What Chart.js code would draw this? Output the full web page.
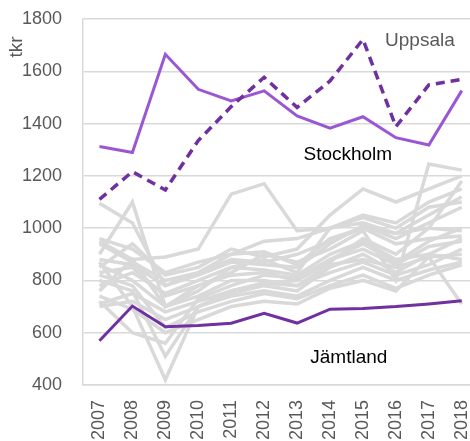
<!DOCTYPE html>
<html>
<head>
<meta charset="utf-8">
<script src="https://cdn.jsdelivr.net/npm/chart.js@4"></script>
<style>
  html, body { margin: 0; padding: 0; background: #fff; }
  #wrap { width: 470px; height: 441px; }
</style>
</head>
<body>
<div id="wrap"><canvas id="chart"></canvas></div>
<script>
// Years on the x axis
const years = [2007, 2008, 2009, 2010, 2011, 2012, 2013, 2014, 2015, 2016, 2017, 2018];

// Highlighted regions (tkr)
const uppsala   = [1312, 1289, 1665, 1531, 1487, 1525, 1429, 1382, 1426, 1346, 1318, 1526];
const stockholm = [1110, 1216, 1146, 1335, 1465, 1577, 1462, 1563, 1722, 1388, 1548, 1569];
const jamtland  = [569, 702, 623, 628, 636, 674, 637, 690, 693, 700, 710, 722];

// Remaining regions, drawn in grey
const others = [
  [1095, 1020, 780, 830, 880, 870, 900, 950, 1000, 980, 1050, 1120],
  [900, 1100, 700, 760, 850, 880, 830, 1000, 1050, 1020, 1100, 1150],
  [950, 880, 890, 920, 1130, 1170, 990, 1000, 1040, 1000, 1080, 1100],
  [870, 700, 420, 700, 760, 790, 800, 870, 960, 900, 1000, 1180],
  [720, 600, 560, 730, 780, 820, 810, 880, 940, 870, 950, 1000],
  [800, 760, 510, 700, 750, 780, 760, 850, 900, 830, 900, 960],
  [760, 880, 700, 780, 830, 900, 870, 920, 990, 800, 1245, 1222],
  [850, 940, 820, 850, 920, 890, 920, 1050, 1150, 1100, 1150, 1200],
  [940, 870, 800, 830, 900, 910, 860, 960, 1000, 940, 960, 970],
  [780, 830, 750, 800, 850, 840, 820, 900, 950, 880, 900, 880],
  [700, 720, 650, 700, 740, 760, 740, 800, 850, 800, 840, 870],
  [860, 800, 700, 740, 800, 800, 780, 860, 880, 850, 890, 900],
  [820, 780, 620, 680, 720, 750, 730, 780, 820, 770, 820, 860],
  [740, 690, 600, 650, 700, 720, 710, 770, 800, 760, 890, 710],
  [960, 920, 830, 870, 900, 950, 960, 1000, 1020, 980, 1000, 990],
  [880, 860, 780, 820, 870, 860, 850, 940, 1010, 960, 1020, 1080],
  [710, 750, 680, 720, 760, 790, 780, 830, 870, 820, 860, 920],
  [830, 850, 740, 780, 820, 830, 800, 880, 920, 860, 930, 950]
];

// Text labels placed in data coordinates
const notes = [
  { text: "Uppsala",   x: 2016.73, y: 1716, color: "#595959" },
  { text: "Stockholm", x: 2014.54, y: 1280, color: "#000000" },
  { text: "Jämtland",  x: 2014.57, y: 503,  color: "#000000" }
];

const FONT = "'Liberation Sans', Arial, sans-serif";
const toPoints = vals => vals.map((v, i) => ({ x: years[i], y: v }));

const datasets = [
  { data: toPoints(jamtland), borderColor: "#7030A0", borderWidth: 3, order: 0 },
  { data: toPoints(stockholm), borderColor: "#7030A0", borderWidth: 3.5, borderDash: [9, 6], order: 1 },
  { data: toPoints(uppsala), borderColor: "#9B57D3", borderWidth: 3, order: 2 }
];
others.forEach(vals => {
  datasets.push({ data: toPoints(vals), borderColor: "#D9D9D9", borderWidth: 3.5, order: 10 });
});

const labelPlugin = {
  id: "labels",
  afterDatasetsDraw(chart) {
    const ctx = chart.ctx;
    const xs = chart.scales.x, ys = chart.scales.y;
    ctx.save();
    ctx.font = "19px " + FONT;
    ctx.textAlign = "center";
    ctx.textBaseline = "middle";
    notes.forEach(n => {
      ctx.fillStyle = n.color;
      ctx.fillText(n.text, xs.getPixelForValue(n.x), ys.getPixelForValue(n.y));
    });
    // unit title, rotated, near the top of the value axis
    ctx.translate(17, 47);
    ctx.rotate(-Math.PI / 2);
    ctx.fillStyle = "#595959";
    ctx.fillText("tkr", 0, 0);
    ctx.restore();
  }
};

new Chart(document.getElementById("chart"), {
  type: "line",
  data: { datasets },
  options: {
    responsive: true,
    maintainAspectRatio: false,
    animation: false,
    layout: { padding: { top: 19, left: 21, right: 0, bottom: 0 } },
    elements: {
      point: { radius: 0 },
      line: { tension: 0, fill: false, borderCapStyle: "butt" }
    },
    plugins: { legend: { display: false }, tooltip: { enabled: false } },
    scales: {
      x: {
        type: "linear",
        min: 2006.5,
        max: 2018.25,
        afterBuildTicks: scale => {
          scale.ticks = years.map(y => ({ value: y }));
        },
        afterFit: scale => {
          scale.paddingLeft = 0;
          scale.paddingRight = 0;
          scale.height = 56;
        },
        grid: { display: false, drawTicks: false },
        border: { display: true, color: "#D9D9D9", width: 1.5 },
        ticks: {
          color: "#595959",
          font: { size: 18, family: FONT },
          minRotation: 90,
          maxRotation: 90,
          padding: 15,
          autoSkip: false,
          callback: v => String(v)
        }
      },
      y: {
        min: 400,
        max: 1800,
        afterFit: scale => {
          scale.paddingTop = 0;
          scale.paddingBottom = 0;
          scale.width = 62;
        },
        grid: { color: "#D9D9D9", lineWidth: 1.5, drawTicks: false },
        border: { display: true, color: "#D9D9D9", width: 1.5 },
        ticks: {
          stepSize: 200,
          color: "#595959",
          font: { size: 18, family: FONT },
          padding: 21,
          callback: v => String(v)
        }
      }
    }
  },
  plugins: [labelPlugin]
});
</script>
</body>
</html>
